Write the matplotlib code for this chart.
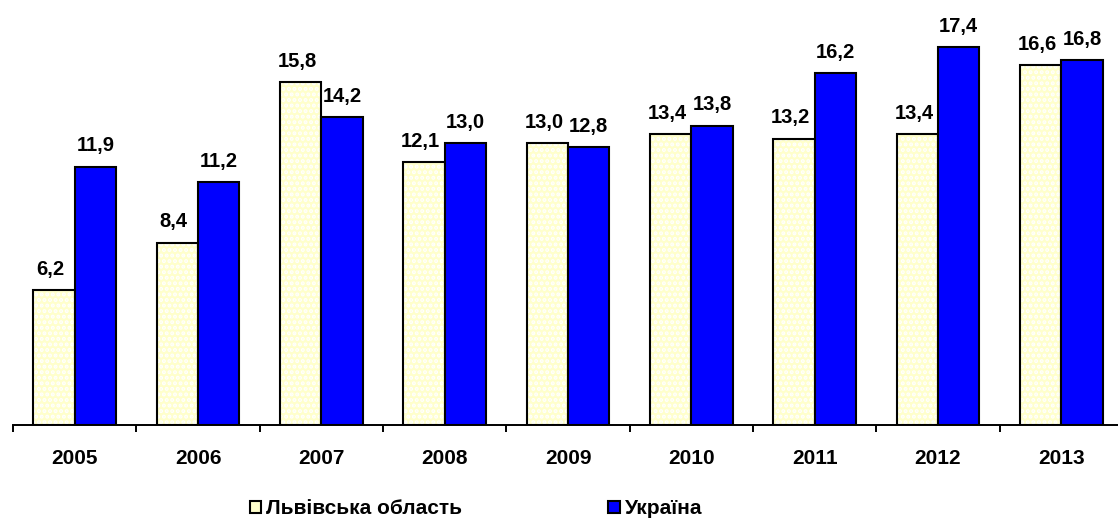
import numpy as np
import matplotlib
matplotlib.use('Agg')
import matplotlib.pyplot as plt
from matplotlib.patches import Patch

plt.rcParams['font.family'] = ['Liberation Sans', 'DejaVu Sans']
plt.rcParams['font.weight'] = 'bold'
plt.rcParams['hatch.linewidth'] = 2.0

# data
years = ['2005', '2006', '2007', '2008', '2009', '2010', '2011', '2012', '2013']
lviv = [6.2, 8.4, 15.8, 12.1, 13.0, 13.4, 13.2, 13.4, 16.6]
ukraine = [11.9, 11.2, 14.2, 13.0, 12.8, 13.8, 16.2, 17.4, 16.8]
series_names = ['Львівська область', 'Україна']

W, H = 1118, 521
fig = plt.figure(figsize=(W / 100, H / 100), dpi=100)
ax = fig.add_axes([13 / W, (H - 425) / H, 1110 / W, 425 / H])

x = np.arange(len(years))
bw = 0.335

# yellow bars with white dots, then black outline on top
ax.bar(x - bw / 2, lviv, bw, color='#FFFFCC', edgecolor='white', hatch='...', linewidth=0)
ax.bar(x - bw / 2, lviv, bw, fill=False, edgecolor='black', linewidth=1.5)
ax.bar(x + bw / 2, ukraine, bw, color='#0000FF', edgecolor='black', linewidth=1.5)

# value labels
fmt = lambda v: '{:.1f}'.format(v).replace('.', ',')
for i in range(len(years)):
    ax.annotate(fmt(lviv[i]), (x[i] - bw / 2, lviv[i]), xytext=(-2.5, 11),
                textcoords='offset points', ha='center', va='baseline',
                fontsize=14.5, fontweight='bold')
    ax.annotate(fmt(ukraine[i]), (x[i] + bw / 2, ukraine[i]), xytext=(0, 11),
                textcoords='offset points', ha='center', va='baseline',
                fontsize=14.5, fontweight='bold')

ax.set_xlim(-0.5, len(years) - 0.5)
ax.set_ylim(0, 425 / 21.7)

for s in ['top', 'right', 'left']:
    ax.spines[s].set_visible(False)
ax.spines['bottom'].set_linewidth(1.4)
ax.yaxis.set_visible(False)

ax.set_xticks(x)
ax.set_xticklabels(years, fontsize=15, fontweight='bold')
ax.tick_params(axis='x', which='major', length=0, pad=17)
ax.set_xticks(np.arange(-0.5, len(years), 1.0), minor=True)
ax.tick_params(axis='x', which='minor', length=5, width=1.4, direction='out')

# legend
handles = [Patch(facecolor='#FFFFCC', edgecolor='black', linewidth=1.5),
           Patch(facecolor='#0000FF', edgecolor='black', linewidth=1.5)]
fig.legend(handles, series_names, loc='center', bbox_to_anchor=(476 / W, 1 - 509 / H),
           ncol=2, frameon=False, handlelength=0.55, handleheight=0.55,
           handletextpad=0.25, columnspacing=7.0, borderpad=0,
           prop={'weight': 'bold', 'size': 15})

fig.savefig('out.png', dpi=100)
